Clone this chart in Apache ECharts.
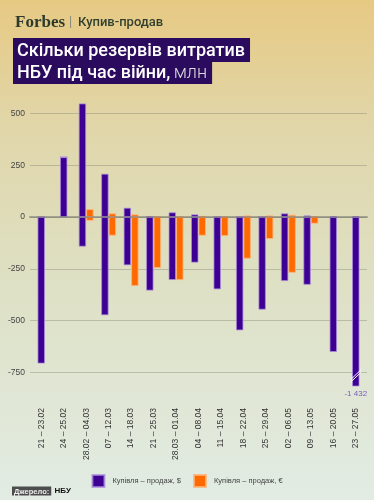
<!DOCTYPE html>
<html><head><meta charset="utf-8">
<script src="https://cdn.jsdelivr.net/npm/echarts@6.0.0/dist/echarts.min.js"></script>
<style>html,body{margin:0;padding:0;}#c{width:374px;height:500px;}</style>
</head><body><div id="c"></div>
<script>
const categories = ['21 – 23.02','24 – 25.02','28.02 – 04.03','07 – 12.03','14 – 18.03','21 – 25.03','28.03 – 01.04','04 – 08.04','11 – 15.04','18 – 22.04','25 – 29.04','02 – 06.05','09 – 13.05','16 – 20.05','23 – 27.05'];
const usdBuy  = [0, 289, 548, 209, 45, 3, 23, 13, 1, 0, 0, 18, 8, 5, 5];
const usdSell = [-707, 0, -143, -474, -233, -355, -304, -220, -349, -547, -447, -309, -327, -651, -1432];
const eurBuy  = [null, null, 38, 18, 13, 3, 3, 6, 5, 8, 8, 11, 5, null, null];
const eurSell = [null, null, -18, -90, -333, -246, -304, -90, -92, -201, -106, -269, -32, null, null];
const yTicks = [500, 250, 0, -250, -500, -750];
const yMin = -815, yMax = 550;
const USD = 'Купівля – продаж, $';
const EUR = 'Купівля – продаж, €';

const fmt = v => String(v).replace(/\B(?=(\d{3})+(?!\d))/g, ' ');
const hasEur = i => eurBuy[i] !== null;
const pairedUsdBuy = usdBuy.map((v, i) => hasEur(i) ? v : '-');
const pairedUsdSell = usdSell.map((v, i) => hasEur(i) ? v : '-');
const soloUsdBuy = usdBuy.map((v, i) => hasEur(i) ? '-' : v);
const soloUsdSell = usdSell.map((v, i) => {
  if (hasEur(i)) return '-';
  if (v < yMin) return {value: v, label: {show: true, position: 'bottom', distance: 3, formatter: fmt(v), color: '#7a5cc2', fontSize: 8, fontFamily: 'Liberation Sans'}};
  return v;
});
const eurB = eurBuy.map(v => v === null ? '-' : v);
const eurS = eurSell.map(v => v === null ? '-' : v);

const purple = {color: '#3d0093', borderColor: 'rgba(170,140,220,0.75)', borderWidth: 1};
const orange = {color: '#ff6a00', borderColor: 'rgba(255,180,120,0.8)', borderWidth: 1};
const bw = 7.5;

const chart = echarts.init(document.getElementById('c'), null, {renderer: 'canvas'});
chart.setOption({
  animation: false,
  backgroundColor: {type: 'linear', x: 0, y: 0, x2: 0, y2: 1, colorStops: [
    {offset: 0, color: '#e7c983'}, {offset: 0.25, color: '#e1d6a9'},
    {offset: 0.55, color: '#dee0c3'}, {offset: 1, color: '#e2ece4'}]},
  grid: {left: 30, right: 7, top: 103, bottom: 114},
  legend: {
    data: [USD, EUR], top: 469, left: 'center', icon: 'rect', itemWidth: 12, itemHeight: 12,
    itemGap: 12, textStyle: {fontSize: 7.5, color: '#444', fontFamily: 'Liberation Sans', padding: [0, 0, 0, 3]}
  },
  xAxis: [
    {type: 'category', data: categories, position: 'bottom',
     axisLine: {show: false, onZero: false}, axisTick: {show: false},
     axisLabel: {rotate: 90, margin: 22, fontSize: 8.5, color: '#333', fontFamily: 'Liberation Sans', interval: 0}},
    {type: 'category', data: categories, position: 'bottom', z: 10,
     axisLine: {show: true, onZero: true, lineStyle: {color: 'rgba(95,95,95,0.45)', width: 2}},
     axisTick: {show: false}, axisLabel: {show: false}}
  ],
  yAxis: {
    type: 'value', min: yMin, max: yMax,
    axisLine: {show: false},
    axisTick: {show: false, customValues: yTicks},
    axisLabel: {customValues: yTicks, fontSize: 8.5, color: '#444', margin: 5, fontFamily: 'Liberation Sans'},
    splitLine: {show: true, lineStyle: {color: 'rgba(140,140,125,0.45)', width: 1}}
  },
  series: [
    {name: USD, type: 'bar', stack: 'usdP', xAxisIndex: 0, barWidth: bw, barGap: '0%', itemStyle: purple, data: pairedUsdBuy},
    {name: USD, type: 'bar', stack: 'usdP', xAxisIndex: 0, barWidth: bw, barGap: '0%', itemStyle: purple, data: pairedUsdSell},
    {name: EUR, type: 'bar', stack: 'eur', xAxisIndex: 0, barWidth: bw, barGap: '0%', itemStyle: orange, data: eurB},
    {name: EUR, type: 'bar', stack: 'eur', xAxisIndex: 0, barWidth: bw, barGap: '0%', itemStyle: orange, data: eurS},
    {name: USD, type: 'bar', stack: 'usdS', xAxisIndex: 1, barWidth: bw, itemStyle: purple, data: soloUsdBuy},
    {name: USD, type: 'bar', stack: 'usdS', xAxisIndex: 1, barWidth: bw, itemStyle: purple, data: soloUsdSell, clip: true}
  ]
});

const graphics = [
  {type: 'text', left: 15, top: 14, style: {text: 'Forbes', font: 'bold 17px "Liberation Serif"', fill: '#2c3a2b'}},
  {type: 'text', left: 69, top: 16, style: {text: '|', font: '12px "Liberation Sans"', fill: '#8a8a7a'}},
  {type: 'text', left: 78, top: 16, style: {text: 'Купив-продав', font: '500 13px Roboto', fill: '#33402f'}},
  {type: 'text', left: 13, top: 38, style: {text: 'Скільки резервів витратив', font: '500 18px Roboto', fill: '#ffffff',
    backgroundColor: '#2b0b5e', padding: [3, 5, 1, 4], lineHeight: 20}},
  {type: 'text', left: 13, top: 62, style: {text: '{b|НБУ під час війни,} {n|млн}', backgroundColor: '#2b0b5e', padding: [1, 5, 1, 4],
    rich: {b: {font: '500 18px Roboto', fill: '#ffffff', lineHeight: 20}, n: {font: '300 18px Roboto', fill: '#dcdcdc', lineHeight: 20}}}},
  {type: 'text', left: 12, top: 485, style: {text: '{a|Джерело:} {b|НБУ}', rich: {
    a: {font: 'bold 7.5px "Liberation Sans"', fill: '#eeeeee', backgroundColor: '#4d4d4d', padding: [1, 2, 0, 2], lineHeight: 9},
    b: {font: 'bold 8px "Liberation Sans"', fill: '#111', lineHeight: 9}}}}
];
// break marker on the clipped bar
usdSell.forEach((v, i) => {
  if (v < yMin) {
    const p = chart.convertToPixel({xAxisIndex: 1, yAxisIndex: 0}, [i, yMin]);
    [0, 2.5].forEach(d => graphics.push({type: 'line', z: 20,
      shape: {x1: p[0] - 5, y1: p[1] - 4 - d, x2: p[0] + 5.5, y2: p[1] - 14 - d},
      style: {stroke: '#ffffff', lineWidth: 1}}));
  }
});
chart.setOption({graphic: graphics});
</script></body></html>
